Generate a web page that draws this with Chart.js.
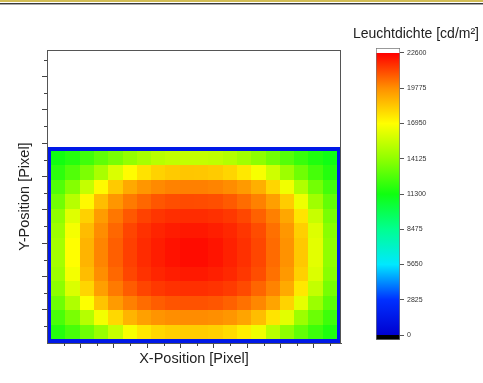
<!DOCTYPE html>
<html><head><meta charset="utf-8">
<script src="https://cdn.jsdelivr.net/npm/chart.js@4.4.1/dist/chart.umd.min.js"></script>
<style>
html,body{margin:0;padding:0;background:#fff;}
#wrap{position:relative;width:483px;height:383px;overflow:hidden;background:#fff;}
canvas{position:absolute;left:0;top:0;}
#s1{position:absolute;left:0;top:0;width:483px;height:2px;background:#d2bd55;}
#s2{position:absolute;left:0;top:3px;width:483px;height:1px;background:#3a3a3a;}
#s3{position:absolute;left:0;top:4px;width:483px;height:1px;background:#aaa;}
#cbtitle{position:absolute;right:4px;top:25px;font:14px 'Liberation Sans',Arial,sans-serif;color:#222;line-height:16px;white-space:nowrap;}
</style></head>
<body>
<div id="wrap">
<canvas id="main" width="483" height="383"></canvas>
<canvas id="cbar" width="483" height="383"></canvas>
<div id="s1"></div><div id="s2"></div><div id="s3"></div>
<div id="cbtitle">Leuchtdichte [cd/m²]</div>
</div>
<script>
// ---- data ----
const xAxisRange = [0, 1764];
const yAxisRange = [0, 1758];
const majorTicks = [200, 400, 600, 800, 1000, 1200, 1400, 1600];
const minorTicks = [100, 300, 500, 700, 900, 1100, 1300, 1500, 1700];
const heatExtentX = [0, 1764];
const heatExtentY = [0, 1176];
const rimWidth = 24;
const rimValue = 1400;
const colorbarTicks = [0, 2825, 5650, 8475, 11300, 14125, 16950, 19775, 22600];
const colorbarRange = [-400, 23000];
const colorStops = [
  [0, [0, 0, 208]], [2825, [0, 48, 255]], [5650, [0, 232, 255]], [8475, [0, 255, 144]],
  [11300, [16, 255, 16]], [14125, [144, 255, 0]], [16950, [255, 255, 0]],
  [19775, [255, 144, 0]], [22600, [255, 0, 0]]
];
// luminance rows, top to bottom (cd/m²)
const luminance = [
 [11330,11740,12335,13040,13600,14210,14690,15110,15350,15410,15400,15290,15010,14550,14050,13430,12790,12160,11600,11210],
 [11915,12735,13675,14770,16005,17020,17690,18100,18300,18395,18380,18275,18015,17530,16735,15710,14455,13390,12475,11720],
 [12705,13880,15440,17085,18300,19135,19620,19895,20055,20095,20080,20015,19840,19515,18975,17990,16600,14930,13480,12405],
 [13450,15105,17110,18640,19625,20205,20580,20920,21070,21120,21110,21050,20840,20485,20070,19395,18245,16505,14525,13105],
 [14100,16125,18110,19475,20270,20865,21300,21560,21690,21730,21730,21660,21500,21200,20690,20080,19180,17625,15515,13615],
 [14440,16705,18665,19840,20580,21240,21640,21890,22060,22130,22120,22020,21840,21540,21100,20405,19585,18165,16075,13975],
 [14635,16965,18855,19990,20730,21350,21760,22040,22240,22370,22360,22200,21960,21660,21220,20500,19720,18355,16250,14120],
 [14635,16965,18855,19990,20730,21350,21760,22040,22240,22370,22360,22200,21960,21660,21220,20500,19720,18355,16250,14120],
 [14420,16680,18640,19810,20555,21220,21620,21870,22040,22110,22100,22000,21820,21520,21080,20380,19555,18140,16045,13960],
 [14040,16020,18030,19405,20215,20800,21250,21500,21640,21680,21680,21600,21450,21150,20610,20030,19110,17530,15420,13565],
 [13350,14905,16895,18450,19500,20095,20475,20770,20945,21000,21000,20905,20690,20380,19945,19270,18060,16290,14400,13000],
 [12560,13645,15075,16655,17950,18855,19380,19665,19810,19855,19855,19785,19610,19270,18625,17640,16220,14440,13300,12295],
 [11760,12505,13370,14320,15465,16770,17550,17960,18175,18255,18240,18135,17865,17390,16540,15150,14080,13110,12285,11600]
];

function colorFor(v) {
  if (v < colorStops[0][0]) return 'rgb(0,0,0)';
  const last = colorStops[colorStops.length - 1];
  if (v > last[0]) return 'rgb(255,255,255)';
  for (let i = 0; i < colorStops.length - 1; i++) {
    const [a, ca] = colorStops[i], [b, cb] = colorStops[i + 1];
    if (v <= b) {
      const t = (v - a) / (b - a);
      return 'rgb(' + ca.map((c, k) => Math.round(c + (cb[k] - c) * t)).join(',') + ')';
    }
  }
  return 'rgb(255,0,0)';
}

const heatmapPlugin = {
  id: 'heatmap',
  beforeDatasetsDraw(chart) {
    const {ctx, scales: {x, y}} = chart;
    const nR = luminance.length, nC = luminance[0].length;
    const xe = [heatExtentX[0]];
    const innerW = (heatExtentX[1] - heatExtentX[0] - 2 * rimWidth) / nC;
    for (let i = 0; i <= nC; i++) xe.push(heatExtentX[0] + rimWidth + i * innerW);
    xe.push(heatExtentX[1]);
    const ye = [heatExtentY[1]];
    const innerH = (heatExtentY[1] - heatExtentY[0] - 2 * rimWidth) / nR;
    for (let j = 0; j <= nR; j++) ye.push(heatExtentY[1] - rimWidth - j * innerH);
    ye.push(heatExtentY[0]);
    ctx.save();
    for (let j = 0; j < ye.length - 1; j++) {
      const py0 = Math.round(y.getPixelForValue(ye[j]));
      const py1 = Math.round(y.getPixelForValue(ye[j + 1]));
      for (let i = 0; i < xe.length - 1; i++) {
        const px0 = Math.round(x.getPixelForValue(xe[i]));
        const px1 = Math.round(x.getPixelForValue(xe[i + 1]));
        const rim = (j === 0 || j === ye.length - 2 || i === 0 || i === xe.length - 2);
        const v = rim ? rimValue : luminance[j - 1][i - 1];
        ctx.fillStyle = colorFor(v);
        ctx.fillRect(px0, py0, px1 - px0, py1 - py0);
      }
    }
    ctx.restore();
  },
  afterDraw(chart) {
    const {ctx, chartArea: a, scales: {x, y}} = chart;
    ctx.save();
    ctx.strokeStyle = '#555';
    ctx.lineWidth = 1;
    ctx.strokeRect(a.left + 0.5, a.top + 0.5, a.right - a.left - 1, a.bottom - a.top);
    ctx.beginPath();
    minorTicks.forEach(v => {
      const px = Math.round(x.getPixelForValue(v)) + 0.5;
      ctx.moveTo(px, a.bottom); ctx.lineTo(px, a.bottom + 3);
      const py = Math.round(y.getPixelForValue(v)) + 0.5;
      ctx.moveTo(a.left, py); ctx.lineTo(a.left - 3, py);
    });
    ctx.strokeStyle = '#444';
    ctx.stroke();
    ctx.restore();
  }
};

const font = "'Liberation Sans', Arial, sans-serif";

new Chart(document.getElementById('main'), {
  type: 'scatter',
  data: {datasets: [{data: [], pointRadius: 0}]},
  options: {
    responsive: false, animation: false,
    layout: {padding: {left: 16, top: 50, right: 142, bottom: 15}},
    plugins: {legend: {display: false}, tooltip: {enabled: false}},
    scales: {
      x: {
        type: 'linear', min: xAxisRange[0], max: xAxisRange[1],
        afterBuildTicks(s) { s.ticks = majorTicks.map(v => ({value: v})); },
        ticks: {display: false},
        grid: {drawOnChartArea: false, drawTicks: true, tickLength: 5, tickColor: '#444'},
        border: {display: true, color: '#555'},
        title: {display: true, text: 'X-Position [Pixel]', color: '#222', font: {family: font, size: 14.5}, padding: {top: 0, bottom: 0}},
        afterFit(s) { s.height = 25; }
      },
      y: {
        type: 'linear', min: yAxisRange[0], max: yAxisRange[1],
        afterBuildTicks(s) { s.ticks = majorTicks.map(v => ({value: v})); },
        ticks: {display: false},
        grid: {drawOnChartArea: false, drawTicks: true, tickLength: 5, tickColor: '#444'},
        border: {display: true, color: '#555'},
        title: {display: true, text: 'Y-Position [Pixel]', color: '#222', font: {family: font, size: 14.5}, padding: {top: 0, bottom: 0}},
        afterFit(s) { s.width = 31; }
      }
    }
  },
  plugins: [heatmapPlugin]
});

new Chart(document.getElementById('cbar'), {
  type: 'bar',
  data: {
    labels: ['Leuchtdichte'],
    datasets: [{
      data: [colorbarRange],
      barPercentage: 1, categoryPercentage: 1,
      borderColor: '#777', borderWidth: 1, borderSkipped: false,
      backgroundColor(c) {
        const chart = c.chart;
        if (!chart.chartArea) return '#fff';
        const ys = chart.scales.y;
        const y0 = ys.getPixelForValue(colorbarRange[0]);
        const y1 = ys.getPixelForValue(colorbarRange[1]);
        const g = chart.ctx.createLinearGradient(0, y0, 0, y1);
        const span = colorbarRange[1] - colorbarRange[0];
        const f0 = (colorStops[0][0] - colorbarRange[0]) / span;
        g.addColorStop(0, '#000');
        g.addColorStop(f0, '#000');
        colorStops.forEach(([v, c3]) => g.addColorStop((v - colorbarRange[0]) / span, 'rgb(' + c3.join(',') + ')'));
        const fl = (colorStops[colorStops.length - 1][0] - colorbarRange[0]) / span;
        g.addColorStop(Math.min(1, fl + 0.0005), '#fff');
        g.addColorStop(1, '#fff');
        return g;
      }
    }]
  },
  options: {
    responsive: false, animation: false,
    layout: {padding: {left: 376, top: 48, right: 43, bottom: 43}},
    plugins: {legend: {display: false}, tooltip: {enabled: false}},
    scales: {
      x: {display: false},
      y: {
        position: 'right', min: colorbarRange[0], max: colorbarRange[1], stacked: false,
        afterBuildTicks(s) { s.ticks = colorbarTicks.map(v => ({value: v})); },
        ticks: {color: '#333', padding: 3, callback: v => String(v), font: {family: font, size: 7}},
        grid: {drawOnChartArea: false, drawTicks: true, tickLength: 4, tickColor: '#555'},
        border: {display: false},
        afterFit(s) { s.width = 40; }
      }
    }
  }
});
</script>
</body></html>
